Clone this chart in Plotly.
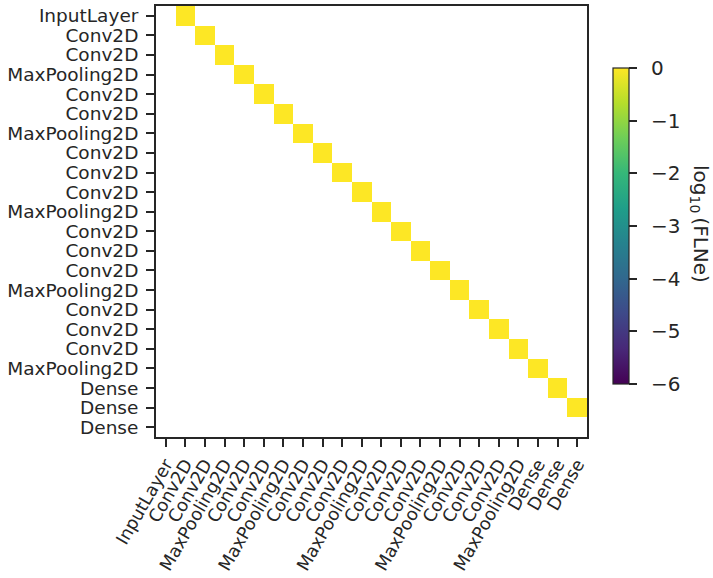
import numpy as np
import plotly.graph_objects as go

# Layer sequence of the network (rows = target, columns = source)
layers = [
    "InputLayer", "Conv2D", "Conv2D", "MaxPooling2D",
    "Conv2D", "Conv2D", "MaxPooling2D",
    "Conv2D", "Conv2D", "Conv2D", "MaxPooling2D",
    "Conv2D", "Conv2D", "Conv2D", "MaxPooling2D",
    "Conv2D", "Conv2D", "Conv2D", "MaxPooling2D",
    "Dense", "Dense", "Dense",
]

# Connections: (row, column, FLNe); every layer feeds only the next one
conn_rows = list(range(21))
conn_cols = list(range(1, 22))
conn_flne = [1.0] * 21

# Colour bar ticks
cbar_ticks = [0, -1, -2, -3, -4, -5, -6]

n = len(layers)
z = np.full((n, n), np.nan)
for r, c, v in zip(conn_rows, conn_cols, conn_flne):
    z[r, c] = np.log10(v)

W, H = 713, 578
ink = "#262626"
font = dict(family="DejaVu Sans", size=18.5, color=ink)
xfont = dict(family="DejaVu Sans", size=17.7, color=ink)
cbar_font = dict(family="DejaVu Sans", size=20, color=ink)

idx = list(range(n))

fig = go.Figure(
    go.Heatmap(
        z=z,
        x=idx,
        y=idx,
        colorscale="Viridis",
        zmin=-6,
        zmax=0,
        hoverongaps=False,
        colorbar=dict(
            x=613 / W,
            xanchor="left",
            xpad=0,
            y=1 - 226 / H,
            yanchor="middle",
            ypad=0,
            len=316 / H,
            lenmode="fraction",
            thickness=16,
            thicknessmode="pixels",
            outlinewidth=1.2,
            outlinecolor=ink,
            tickmode="array",
            tickvals=cbar_ticks,
            ticktext=["\u2002" + f"{t:d}".replace("-", "\u2212") for t in cbar_ticks],
            ticks="outside",
            ticklen=8,
            tickwidth=1.5,
            tickcolor=ink,
            tickfont=cbar_font,
        ),
    )
)

axis_style = dict(
    tickmode="array",
    tickvals=idx,
    ticktext=layers,
    ticks="outside",
    ticklen=8,
    tickwidth=1.8,
    tickcolor=ink,
    showline=True,
    linecolor=ink,
    linewidth=1.8,
    mirror=True,
    showgrid=False,
    zeroline=False,
    automargin=False,
)

fig.update_xaxes(
    domain=[156 / W, 587 / W],
    range=[-0.5, n - 0.5],
    tickangle=-60,
    tickfont=xfont,
    ticklabelstandoff=0,
    **axis_style,
)
fig.update_yaxes(
    domain=[1 - 437 / H, 1 - 6 / H],
    range=[n - 0.5, -0.5],
    tickfont=font,
    ticklabelstandoff=4,
    **axis_style,
)

fig.add_annotation(
    text="log<sub>10</sub>\u2009(FLNe)",
    x=700 / W,
    y=1 - 224 / H,
    xref="paper",
    yref="paper",
    xanchor="center",
    yanchor="middle",
    textangle=90,
    showarrow=False,
    font=dict(family="DejaVu Sans", size=20, color=ink),
)

fig.update_layout(
    width=W,
    height=H,
    margin=dict(l=0, r=0, t=0, b=0),
    paper_bgcolor="white",
    plot_bgcolor="white",
    font=font,
)

fig.write_html("out.html")
